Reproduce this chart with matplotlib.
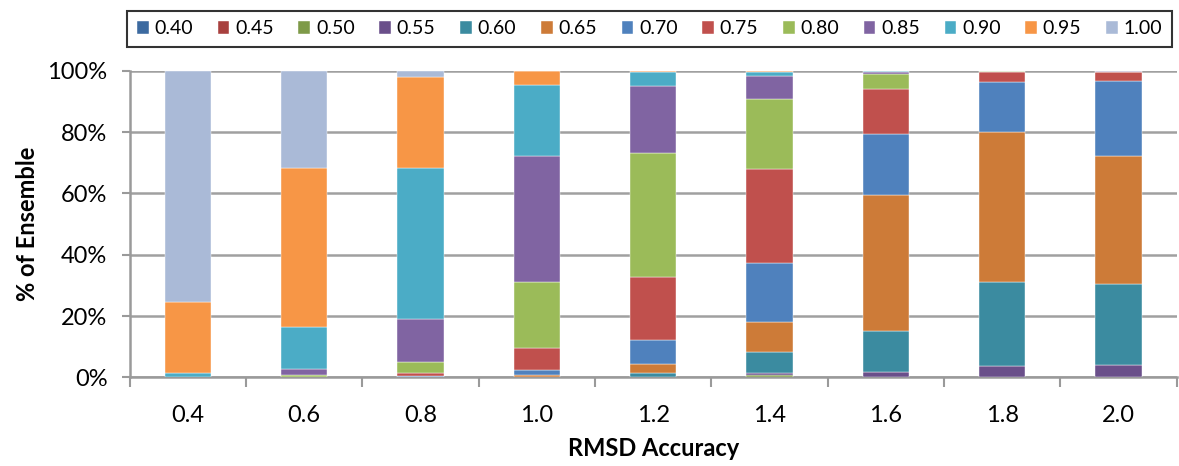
import numpy as np
import matplotlib.pyplot as plt

# RMSD accuracy categories (x axis)
rmsd = ['0.4', '0.6', '0.8', '1.0', '1.2', '1.4', '1.6', '1.8', '2.0']

# series names (legend) and colours
series = ['0.40', '0.45', '0.50', '0.55', '0.60', '0.65', '0.70',
          '0.75', '0.80', '0.85', '0.90', '0.95', '1.00']
colors = ['#3C6AA0', '#A8403E', '#7E9A48', '#6A4F8A', '#3B8BA0', '#CD7B38', '#4F81BD',
          '#C0504D', '#9BBB59', '#8064A2', '#4BACC6', '#F79646', '#AABAD7']

# % of ensemble for each series, one value per RMSD category
s040 = [0, 0, 0, 0, 0, 0, 0, 0, 0]
s045 = [0, 0, 0, 0, 0, 0, 0, 0, 0]
s050 = [0, 0, 0, 0, 0, 0.8, 0, 0, 0]
s055 = [0, 0, 0, 0, 0, 0.5, 1.7, 3.9, 4.1]
s060 = [0, 0, 0, 0.3, 1.4, 6.9, 13.4, 27.2, 26.3]
s065 = [0, 0, 0, 0.5, 2.9, 9.8, 44.4, 49.0, 41.8]
s070 = [0, 0, 0.4, 1.5, 7.9, 19.2, 20.0, 16.1, 24.5]
s075 = [0, 0, 1.0, 7.2, 20.7, 30.9, 14.7, 3.4, 2.9]
s080 = [0, 0.8, 3.6, 21.6, 40.3, 22.6, 4.9, 0.4, 0]
s085 = [0, 2.1, 14.2, 41.2, 22.0, 7.6, 0.6, 0, 0.4]
s090 = [1.4, 13.5, 49.0, 23.0, 4.5, 1.4, 0.3, 0, 0]
s095 = [23.2, 51.8, 29.9, 4.7, 0.3, 0.3, 0, 0, 0]
s100 = [75.4, 31.8, 1.9, 0, 0, 0, 0, 0, 0]

values = [s040, s045, s050, s055, s060, s065, s070,
          s075, s080, s085, s090, s095, s100]

plt.rcParams['font.family'] = ['Lato', 'DejaVu Sans']
fig, ax = plt.subplots(figsize=(11.79, 4.66), dpi=100)
fig.subplots_adjust(left=0.11, right=0.998, top=0.848, bottom=0.19)

x = np.arange(len(rmsd))
bottom = np.zeros(len(rmsd))
for name, vals, col in zip(series, values, colors):
    ax.bar(x, vals, width=0.4, bottom=bottom, color=col, label=name,
           edgecolor='white', linewidth=0.3, zorder=3)
    bottom += np.array(vals)

ax.set_xlim(-0.5, len(rmsd) - 0.5)
ax.set_ylim(0, 100)
ax.set_yticks(np.arange(0, 101, 20))
ax.set_yticklabels([f'{v}%' for v in range(0, 101, 20)], fontsize=17)
ax.set_xticks(x)
ax.set_xticklabels(rmsd, fontsize=17)
ax.tick_params(axis='x', length=0, pad=20)
ax.set_xticks(np.arange(-0.5, len(rmsd)), minor=True)
ax.tick_params(axis='x', which='minor', length=7, width=1.5, color='#9a9a9a')
ax.tick_params(axis='y', length=6, width=1.5, color='#9a9a9a', pad=10)

ax.grid(axis='y', color='#a0a0a0', linewidth=1.8, zorder=0)
for side in ['top', 'right']:
    ax.spines[side].set_visible(False)
for side in ['left', 'bottom']:
    ax.spines[side].set_color('#9a9a9a')
    ax.spines[side].set_linewidth(1.8)

ax.set_xlabel('RMSD Accuracy', fontsize=17, fontweight='bold', labelpad=8)
ax.set_ylabel('% of Ensemble', fontsize=17, fontweight='bold', labelpad=6)

leg = fig.legend(loc='center', bbox_to_anchor=(0.108, 0.897, 0.886, 0.082), mode='expand',
                 ncol=len(series), fontsize=14, frameon=True, fancybox=False,
                 handlelength=0.6, handleheight=0.6, handletextpad=0.3,
                 borderaxespad=0, borderpad=0.5, columnspacing=1.0)
leg.get_frame().set_edgecolor('black')
leg.get_frame().set_linewidth(1.5)

plt.savefig('out.png', dpi=100)
